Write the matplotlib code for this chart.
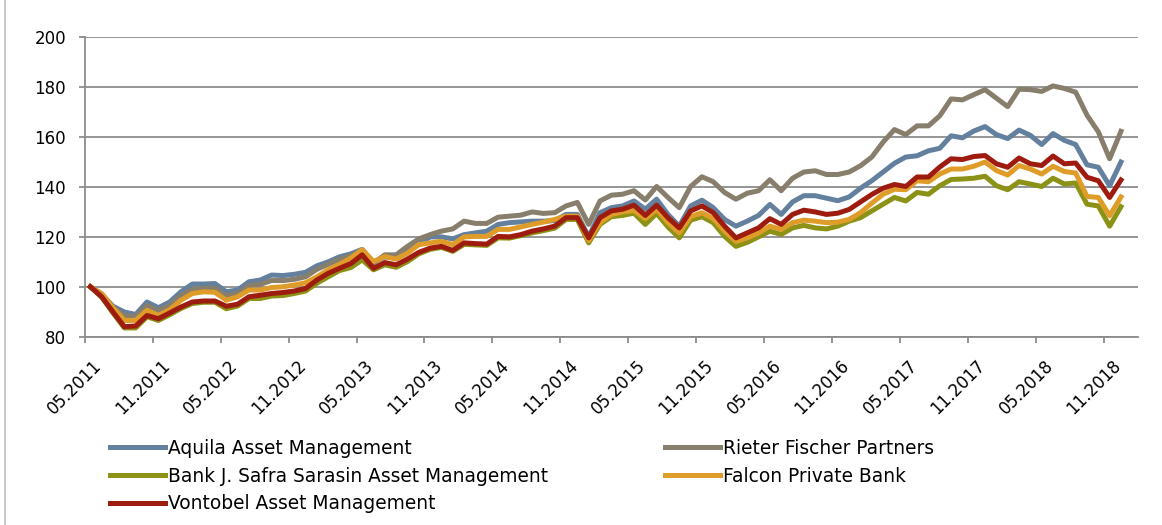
import matplotlib.pyplot as plt
from matplotlib.lines import Line2D
from matplotlib.transforms import ScaledTranslation

# monthly index values, 05.2011 .. 12.2018
aquila = [100, 97, 92.2, 89.9, 88.9, 93.9, 91.6, 93.9, 98, 101.1, 101.1, 101.3, 98, 98.7, 102,
          102.7, 104.7, 104.5, 105, 105.8, 108.4, 110, 112, 113.2, 115, 109.8, 112, 111.5, 114.5, 117,
          120, 120, 119.2, 120.9, 121.6, 122.3, 125, 125.7, 126, 126.3, 126.3, 126.5, 129, 129, 120, 129.7,
          131.7, 132.4, 134.4, 131.1, 135.1, 129, 124.3, 132.4, 134.7, 131.7, 127, 124.3, 126.3, 128.6, 133,
          129, 134, 136.5, 136.5, 135.5, 134.5, 136, 139.5, 142.5, 146, 149.5, 152, 152.5, 154.5, 155.5, 160.5,
          159.7, 162.4, 164.2, 161, 159.4, 162.8, 160.7, 157, 161.4, 158.7, 157, 148.9, 147.9, 140.5, 150]
rieter = [100, 96.5, 91.5, 88.5, 88, 92.5, 90.5, 92.5, 96.5, 99, 99.3, 99.5, 96.5, 97.3, 100.5,
          101, 102.5, 102.5, 103, 104, 107, 109, 111, 112.5, 114.5, 109.5, 112.8, 112.8, 116.2, 119.2,
          120.9, 122.3, 123.2, 126.3, 125.4, 125.4, 127.9, 128.3, 128.7, 130, 129.4, 129.7, 132.4, 133.8, 125, 134.4,
          136.7, 137.1, 138.5, 134.8, 140.2, 135.8, 131.7, 140.2, 144.1, 142.1, 137.8, 135.1, 137.5, 138.5, 142.9,
          138.5, 143.5, 146, 146.5, 145, 145, 146, 148.5, 152, 158, 163, 161, 164.5, 164.5, 168.5, 175.3,
          174.9, 177, 179, 175.6, 172.2, 179.2, 179, 178.3, 180.5, 179.5, 178, 168.8, 162.1, 151.3, 162.3]
sarasin = [100, 95.8, 89.5, 83.5, 83.5, 88, 86.5, 88.8, 91.3, 93.3, 93.8, 93.8, 91.2, 92.3, 95.3,
           95.3, 96.3, 96.5, 97.3, 98.3, 101.4, 104, 106.5, 107.7, 110.8, 106.8, 108.8, 107.8, 110.1, 113.2,
           115, 115.8, 114.2, 117, 116.8, 116.6, 119.6, 119.5, 120.5, 121.6, 122.5, 123.5, 127, 127, 117.6, 125,
           128.1, 128.6, 129.5, 125, 129.4, 124, 119.6, 126.7, 128.1, 125.7, 120.2, 116.2, 117.8, 120, 122.3,
           121, 123.6, 124.6, 123.6, 123.2, 124.3, 126.3, 127.7, 130.4, 133.1, 135.8, 134.4, 137.8, 137.1, 140.5, 143,
           143.2, 143.5, 144.3, 140.5, 138.9, 142.1, 141.2, 140.2, 143.5, 141.2, 141.6, 133.1, 132.4, 124.3, 132.1]
falcon = [100, 97.3, 91.6, 86.5, 86.5, 90.6, 88.5, 90.8, 94.6, 97.3, 98, 97.8, 94.6, 96, 98.7,
          98.7, 99.7, 100, 100.7, 101.6, 104, 106.8, 109, 111.5, 114.9, 110.1, 112.1, 111.1, 113.5, 116.9,
          117.6, 118.2, 116.9, 120, 120.2, 120.2, 123, 123, 124, 125, 125.9, 127, 128.3, 128.3, 118.5, 125.7,
          129, 130, 130.6, 127.3, 131.1, 125.7, 121.6, 128.1, 129.7, 127.3, 122.3, 118.2, 119.6, 121.6, 124.3,
          123, 125.7, 126.7, 126.3, 125.7, 125.9, 127, 129.7, 133.5, 137.1, 139.1, 138.9, 142.5, 142.1, 145.2, 147.2,
          147.2, 148.3, 150, 146.6, 144.8, 148.6, 147.2, 145.2, 148.3, 146.2, 145.6, 136.2, 135.8, 128.5, 136]
vontobel = [100, 96, 89.9, 84, 84.3, 88.5, 87.2, 89.5, 91.9, 93.9, 94.3, 94.3, 92.2, 93, 96,
            96.6, 97.3, 97.7, 98.3, 99.3, 102.7, 105.4, 107.4, 109.3, 112.8, 107.4, 109.7, 108.8, 111.1, 113.8,
            115.5, 116.2, 114.6, 117.6, 117.3, 117.1, 120.2, 120, 120.9, 122.3, 123.2, 124.3, 127.7, 127.7, 119.6, 127.7,
            130.4, 131.1, 132.7, 128.6, 132.7, 127.7, 123.6, 130.4, 132.4, 129.7, 124.3, 119.6, 121.6, 123.6, 127.3,
            125, 129, 130.7, 130, 129, 129.5, 131, 134, 137, 139.5, 141, 140.2, 144, 144, 148, 151.3,
            151, 152.2, 152.6, 149.3, 147.9, 151.6, 149.3, 148.6, 152.4, 149.3, 149.6, 143.9, 142.5, 135.8, 142.8]

names = ['Aquila Asset Management', 'Rieter Fischer Partners',
         'Bank J. Safra Sarasin Asset Management', 'Falcon Private Bank',
         'Vontobel Asset Management']
colors = ['#64809f', '#877e6c', '#8b9216', '#e09c28', '#9e1b10']
tick_labels = ['05.2011', '11.2011', '05.2012', '11.2012', '05.2013', '11.2013',
               '05.2014', '11.2014', '05.2015', '11.2015', '05.2016', '11.2016',
               '05.2017', '11.2017', '05.2018', '11.2018']

fig = plt.figure(figsize=(11.62, 5.25), dpi=100)
ax = fig.add_axes([0.0729, 0.3587, 0.9064, 0.5703])

grid_c = '#8c8c8c'
lines = []
for vals, name, c in zip([aquila, rieter, sarasin, falcon, vontobel], names, colors):
    x = list(range(len(vals)))
    ln, = ax.plot(x, vals, color=c, lw=3.6, label=name)
    lines.append(ln)

ax.set_ylim(80, 200)
ax.set_yticks(range(80, 201, 20))
ax.set_xlim(-0.5, 92.5)
ax.set_xticks([-0.5 + 6 * k for k in range(len(tick_labels))])
ax.set_xticklabels(tick_labels, rotation=45, ha='right', va='top', rotation_mode='anchor')
ax.yaxis.grid(True, color=grid_c, lw=1.3)
ax.set_axisbelow(True)
for s in ['top', 'right']:
    ax.spines[s].set_visible(False)
for s in ['left', 'bottom']:
    ax.spines[s].set_color(grid_c)
    ax.spines[s].set_linewidth(1.3)
ax.tick_params(axis='both', colors=grid_c, length=4.3, width=1.3, labelcolor='black', labelsize=12)
ax.tick_params(axis='y', pad=9)
ax.tick_params(axis='x', pad=10)
shift = ScaledTranslation(8 / 100, 0, fig.dpi_scale_trans)
for lab in ax.get_xticklabels():
    lab.set_transform(lab.get_transform() + shift)

# legend in two columns
col1 = [lines[0], lines[2], lines[4]]
col2 = [lines[1], lines[3]]
for hs, xpos in [(col1, 110), (col2, 665)]:
    fig.legend(hs, [h.get_label() for h in hs], loc='upper left',
               bbox_to_anchor=(xpos / 1162, 1 - 439 / 525), frameon=False,
               fontsize=13.4, handlelength=2.95, handletextpad=0.17,
               labelspacing=0.47, borderpad=0, borderaxespad=0)

# chart area border on the left
fig.add_artist(Line2D([5 / 1162, 5 / 1162], [0, 1], transform=fig.transFigure,
                      color='#bdbdbd', lw=1.2))

fig.savefig('out.png', dpi=100)
